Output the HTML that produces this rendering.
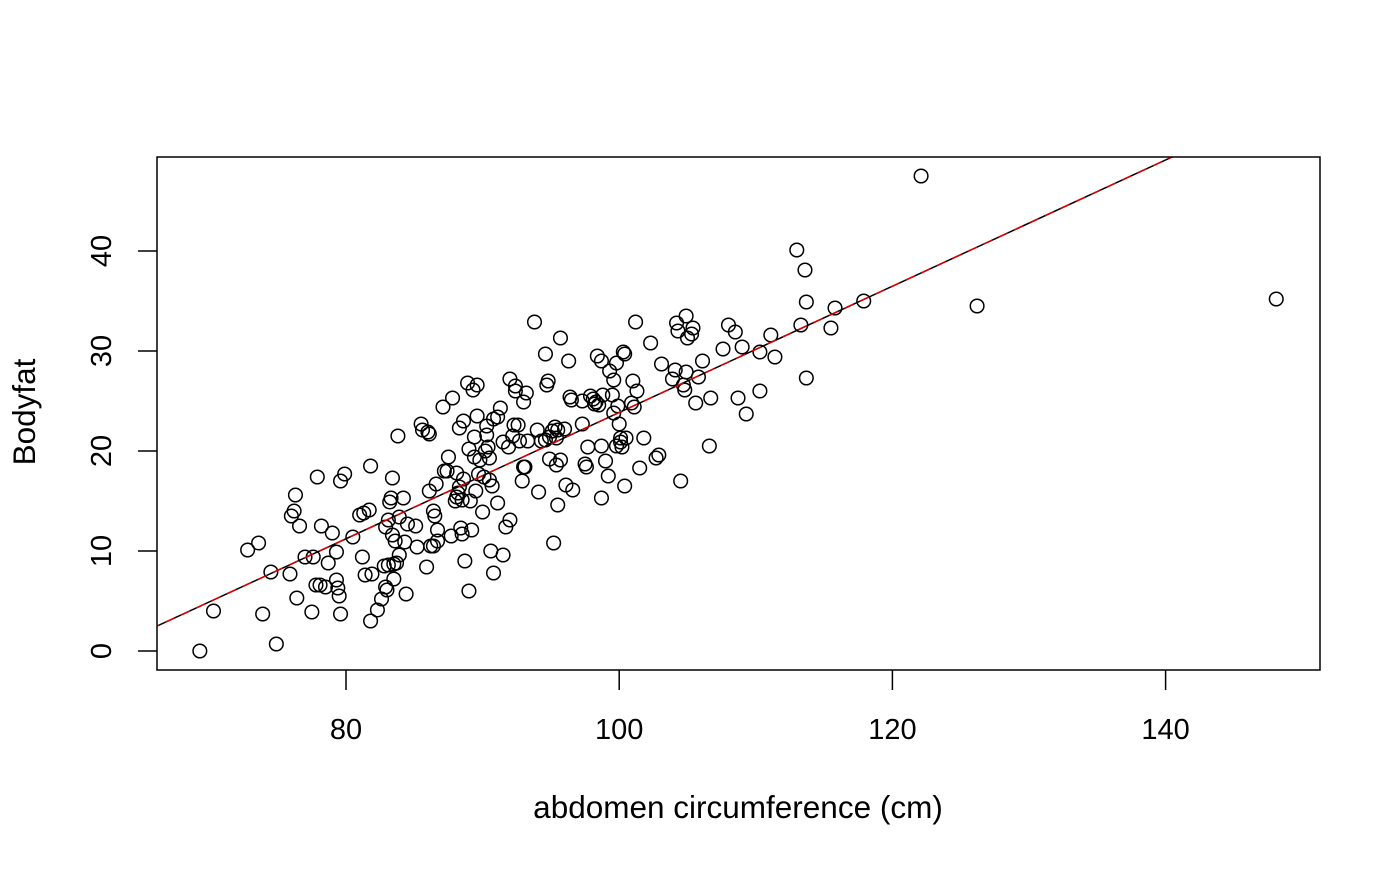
<!DOCTYPE html>
<html><head><meta charset="utf-8"><style>
html,body{margin:0;padding:0;background:#fff;}
svg text{font-family:"Liberation Sans",Arial,sans-serif;font-size:29px;fill:#000;}
svg text.title{font-size:31.5px;}
</style></head><body>
<svg id="chart" width="1400" height="866" viewBox="0 0 1400 866" xmlns="http://www.w3.org/2000/svg">
<defs><clipPath id="clip"><rect x="157" y="157" width="1163" height="513"/></clipPath></defs>
<g id="points"></g>
<g id="lines" clip-path="url(#clip)"></g>
<rect x="157" y="157" width="1163" height="513" fill="none" stroke="#000" stroke-width="1.5"/>
<g id="xaxis"></g>
<g id="yaxis"></g>
<text class="title" x="738" y="818" text-anchor="middle">abdomen circumference (cm)</text>
<text class="title" transform="translate(35,412) rotate(-90)" text-anchor="middle">Bodyfat</text>
</svg>
<script>
const abdomen = [69.3,70.3,72.8,73.6,73.9,74.5,74.9,76.0,76.2,76.3,75.9,76.4,76.6,77.0,77.5,77.6,77.8,77.9,78.1,78.2,78.5,78.7,79.0,79.3,79.3,79.4,79.5,79.6,79.6,79.9,80.5,81.0,81.2,81.3,81.4,81.7,81.8,81.8,81.9,82.3,82.6,82.8,82.9,82.9,83.0,83.1,83.1,83.2,83.3,83.4,83.4,83.5,83.5,83.6,83.7,83.8,83.9,83.9,84.2,84.4,84.3,84.5,85.1,85.2,85.5,85.6,85.9,86.0,86.1,86.1,86.2,86.4,86.4,86.5,86.6,86.7,86.7,87.1,87.2,87.4,87.5,87.7,87.8,88.0,88.1,88.1,88.2,88.3,88.3,88.4,88.5,88.5,88.6,88.6,88.7,88.9,89.0,89.0,89.1,89.2,89.3,89.4,89.4,89.5,89.6,89.6,89.7,89.8,90.0,90.1,90.2,90.3,90.3,90.4,90.5,90.5,90.6,90.7,90.8,90.8,91.1,91.1,91.3,91.5,91.5,91.7,91.9,92.0,92.0,92.2,92.3,92.4,92.4,92.6,92.7,92.9,93.0,93.0,93.1,93.2,93.3,93.8,94.0,94.1,94.3,94.6,94.6,94.7,94.8,94.9,94.9,95.1,95.2,95.3,95.4,95.4,95.5,95.5,95.7,95.7,96.0,96.1,96.3,96.4,96.5,96.6,97.3,97.3,97.5,97.6,97.7,97.9,98.1,98.2,98.3,98.4,98.5,98.7,98.7,98.7,98.8,99.0,99.2,99.3,99.5,99.6,99.6,99.8,99.8,99.9,100.0,100.1,100.1,100.2,100.3,100.4,100.4,100.5,100.9,101.0,101.1,101.2,101.3,101.5,101.8,102.3,102.7,102.9,103.1,103.9,104.1,104.2,104.3,104.5,104.7,104.8,104.9,104.9,105.0,105.3,105.4,105.6,105.8,106.1,106.6,106.7,107.6,108.0,108.5,108.7,109.0,109.3,110.3,110.3,111.1,111.4,113.0,113.3,113.6,113.7,113.7,115.5,115.8,117.9,122.1,126.2,148.1];
const bodyfat = [0.0,4.0,10.1,10.8,3.7,7.9,0.7,13.5,14.0,15.6,7.7,5.3,12.5,9.4,3.9,9.4,6.6,17.4,6.6,12.5,6.4,8.8,11.8,9.9,7.1,6.3,5.5,17.0,3.7,17.7,11.4,13.6,9.4,13.8,7.6,14.1,18.5,3.0,7.7,4.1,5.2,8.5,12.4,6.4,6.1,13.1,8.6,14.9,15.3,17.3,11.6,8.7,7.2,11.0,8.8,21.5,13.4,9.6,15.3,5.7,10.9,12.7,12.5,10.4,22.7,22.1,8.4,21.9,16.0,21.7,10.5,14.0,10.5,13.5,16.7,12.1,11.0,24.4,18.0,18.0,19.4,11.5,25.3,15.0,15.4,17.8,15.8,16.4,22.3,12.3,11.7,15.1,23.0,17.2,9.0,26.8,6.0,20.2,15.0,12.1,26.1,19.4,21.4,16.0,26.6,23.5,17.7,19.1,13.9,17.4,20.0,22.5,21.6,20.4,17.1,19.3,10.0,16.5,7.8,23.2,23.4,14.8,24.3,20.9,9.6,12.4,20.4,27.2,13.1,21.5,22.6,26.5,26.0,22.6,21.0,17.0,18.4,24.9,18.4,25.8,21.0,32.9,22.1,15.9,21.0,29.7,21.1,26.6,27.0,21.4,19.2,22.0,10.8,22.4,21.3,18.6,14.6,22.1,31.3,19.1,22.2,16.6,29.0,25.4,25.1,16.1,22.7,25.0,18.7,18.4,20.4,25.5,25.2,24.7,24.9,29.5,24.6,29.0,15.3,20.5,25.6,19.0,17.5,28.0,25.6,27.1,23.8,20.5,28.8,24.5,22.7,21.3,20.9,20.4,29.9,16.5,29.7,21.3,24.8,27.0,24.4,32.9,26.0,18.3,21.3,30.8,19.3,19.6,28.7,27.2,28.1,32.8,32.0,17.0,26.6,26.1,33.5,27.9,31.3,31.7,32.3,24.8,27.4,29.0,20.5,25.3,30.2,32.6,31.9,25.3,30.4,23.7,26.0,29.9,31.6,29.4,40.1,32.6,38.1,34.9,27.3,32.3,34.3,35.0,47.5,34.5,35.2];
const xTicks = [80,100,120,140];
const yTicks = [0,10,20,30,40];
const fitIntercept = -39.28;
const fitSlope = 0.6313;

const NS='http://www.w3.org/2000/svg';
const X0=157,X1=1320,Y0=157,Y1=670;
function sx(v){return 346+(v-80)*13.66;}
function sy(v){return 651-v*10;}
function mk(t,a){const e=document.createElementNS(NS,t);for(const k in a)e.setAttribute(k,a[k]);return e;}

const pg=document.getElementById('points');
abdomen.forEach((a,i)=>{
  const c=mk('circle',{cx:sx(a),cy:sy(bodyfat[i]),r:6.8,fill:'none',stroke:'#000','stroke-width':1.5});
  
  
  pg.appendChild(c);
});

const lg=document.getElementById('lines');
const xa=60,xb=160;
const l1=mk('line',{x1:sx(xa),y1:sy(fitIntercept+fitSlope*xa),x2:sx(xb),y2:sy(fitIntercept+fitSlope*xb),stroke:'#000','stroke-width':1.5});


lg.appendChild(l1);
const l2=mk('line',{x1:sx(xa),y1:sy(fitIntercept+fitSlope*xa),x2:sx(xb),y2:sy(fitIntercept+fitSlope*xb),stroke:'#e00000','stroke-width':1.5,'stroke-dasharray':'10 7'});


lg.appendChild(l2);

const xg=document.getElementById('xaxis');
xTicks.forEach(t=>{
  const tk=mk('line',{x1:sx(t),y1:Y1,x2:sx(t),y2:Y1+20,stroke:'#000','stroke-width':1.5});
  
  
  xg.appendChild(tk);
  const tx=mk('text',{x:sx(t),y:739,'text-anchor':'middle'});
  tx.textContent=t;
  
  
  xg.appendChild(tx);
});
const yg=document.getElementById('yaxis');
yTicks.forEach(t=>{
  const tk=mk('line',{x1:X0-19,y1:sy(t),x2:X0,y2:sy(t),stroke:'#000','stroke-width':1.5});
  
  
  yg.appendChild(tk);
  const tx=mk('text',{transform:'translate(111,'+sy(t)+') rotate(-90)','text-anchor':'middle'});
  tx.textContent=t;
  
  
  yg.appendChild(tx);
});
</script>
</body></html>
